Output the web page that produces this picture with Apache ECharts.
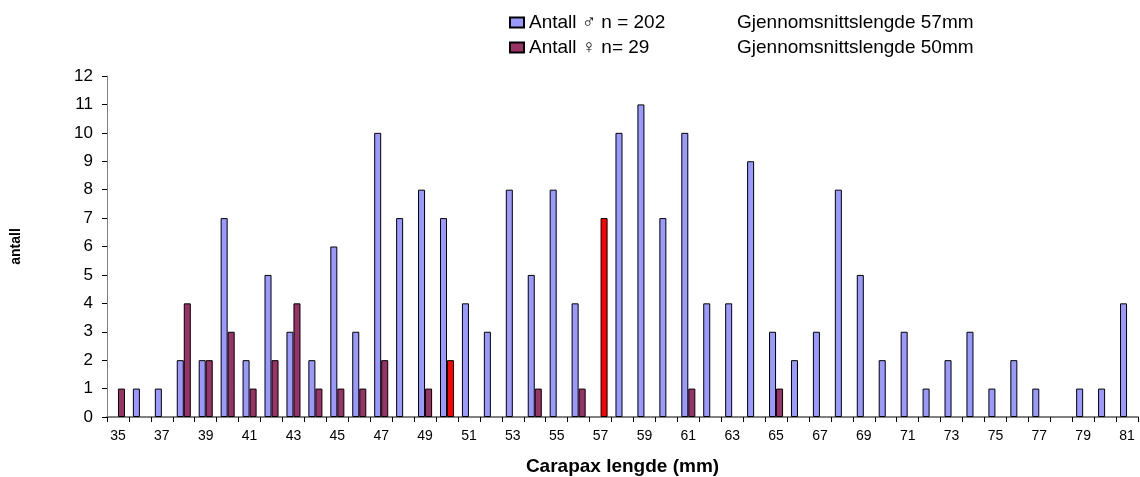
<!DOCTYPE html>
<html><head><meta charset="utf-8">
<script src="https://cdn.jsdelivr.net/npm/echarts@6/dist/echarts.min.js"></script>
<style>html,body{margin:0;padding:0;background:#fff}#c{width:1140px;height:477px}</style>
</head><body><div id="c"></div>
<script>
const categories = ['35','36','37','38','39','40','41','42','43','44','45','46','47','48','49','50','51','52','53','54','55','56','57','58','59','60','61','62','63','64','65','66','67','68','69','70','71','72','73','74','75','76','77','78','79','80','81'];
const males   = [0,1,1,2,2,7,2,5,3,2,6,3,10,7,8,7,4,3,8,5,8,4,0,10,11,7,10,4,4,9,3,2,3,8,5,2,3,1,2,3,1,2,1,0,1,1,4];
const females = [1,0,0,4,2,3,1,2,4,1,1,1,2,0,1,2,0,0,0,1,0,1,7,0,0,0,1,0,0,0,1,0,0,0,0,0,0,0,0,0,0,0,0,0,0,0,0];
const highlighted = ['50','57'];
const maleName = 'Antall ♂ n = 202';
const maleMean = 'Gjennomsnittslengde 57mm';
const femaleName = 'Antall ♀ n= 29';
const femaleMean = 'Gjennomsnittslengde 50mm';

const chart = echarts.init(document.getElementById('c'));
const F = 'Arial, "Liberation Sans", sans-serif';
const means = {};
means[maleName] = maleMean; means[femaleName] = femaleMean;
const hideZero = v => (v === 0 ? '-' : v);
chart.setOption({
  animation: false,
  textStyle: {fontFamily: F},
  legend: {
    orient: 'vertical', left: 504, top: 8, itemGap: 6,
    itemWidth: 14, itemHeight: 10, icon: 'rect',
    data: [maleName, femaleName],
    formatter: n => '{a|' + n + '}{b|' + means[n] + '}',
    textStyle: {fontFamily: F, fontSize: 19, color: '#000',
      rich: {a: {width: 208, fontSize: 19, fontFamily: F, color: '#000'}, b: {fontSize: 19, fontFamily: F, color: '#000'}}}
  },
  grid: {left: 107, right: 2, top: 76, bottom: 60, containLabel: false, outerBoundsMode: 'none'},
  xAxis: {
    type: 'category', data: categories,
    name: 'Carapax lengde (mm)', nameLocation: 'middle', nameGap: 40,
    nameTextStyle: {fontFamily: F, fontWeight: 'bold', fontSize: 19, color: '#000'},
    axisLine: {lineStyle: {color: '#808080', width: 2}},
    axisTick: {show: true, alignWithLabel: false, interval: 0, lineStyle: {color: '#000'}, length: 5},
    axisLabel: {interval: 1, color: '#000', fontSize: 14, margin: 12, fontFamily: F}
  },
  yAxis: {
    type: 'value', min: 0, max: 12, interval: 1,
    name: 'antall', nameLocation: 'middle', nameGap: 84, nameRotate: 90,
    nameTextStyle: {fontFamily: F, fontWeight: 'bold', fontSize: 14, color: '#000'},
    axisLine: {show: true, lineStyle: {color: '#808080', width: 1}},
    axisTick: {show: true, length: 5, lineStyle: {color: '#000'}},
    splitLine: {show: false},
    axisLabel: {color: '#000', fontSize: 17, margin: 14, fontFamily: F}
  },
  series: [
    {name: maleName, type: 'bar', data: males.map(hideZero), barWidth: '32%', barGap: '0%',
     itemStyle: {color: '#9999ff', borderColor: '#000', borderWidth: 1}},
    {name: femaleName, type: 'bar', barWidth: '32%',
     data: females.map((v, i) => highlighted.includes(categories[i]) ? {value: hideZero(v), itemStyle: {color: '#ff0000'}} : hideZero(v)),
     itemStyle: {color: '#993366', borderColor: '#000', borderWidth: 1}}
  ]
});
</script></body></html>
